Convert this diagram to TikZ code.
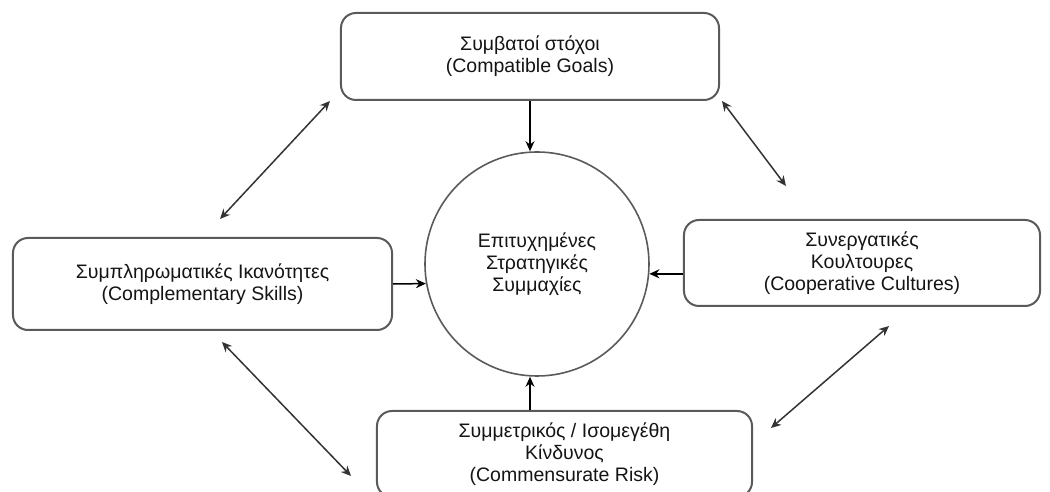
\documentclass[tikz,border=0pt]{standalone}
\usepackage{fontspec}
\setmainfont{Liberation Sans}
\usetikzlibrary{arrows.meta,positioning}
\definecolor{boxgray}{RGB}{90,90,90}
\definecolor{txtgray}{RGB}{20,20,20}

\tikzset{
  factor/.style={draw=boxgray,line width=1bp,rounded corners=7.5bp,align=center,inner sep=0pt,
    text=txtgray,font=\fontsize{9.8}{11.2}\selectfont},
  hubnode/.style={draw=boxgray,line width=0.8bp,circle,minimum size=112bp,inner sep=0pt,align=center,
    text=txtgray,font=\fontsize{9.8}{11.2}\selectfont},
  link/.style={-{Stealth[length=5bp,width=4.5bp]},line width=0.75bp},
  twoway/.style={{Stealth[length=5bp,width=4.5bp]}-{Stealth[length=5bp,width=4.5bp]},line width=0.75bp,black!80}
}

\begin{document}
\begin{tikzpicture}[x=0.5bp,y=-0.5bp]
  \useasboundingbox (0,0) rectangle (1050,492);

  % centre
  \node[hubnode] (hub) at (537,264) {Επιτυχημένες\\Στρατηγικές\\Συμμαχίες};

  % the four factors
  \node[factor,minimum width=189bp,minimum height=43.5bp] (goals) at (530,56.5) {Συμβατοί στόχοι\\(Compatible Goals)};
  \node[factor,minimum width=189.5bp,minimum height=46bp] (skills) at (202.5,284) {Συμπληρωματικές Ικανότητες\\(Complementary Skills)};
  \node[factor,minimum width=178bp,minimum height=43bp] (cultures) at (862,263) {Συνεργατικές\\Κουλτουρες\\(Cooperative Cultures)};
  \node[factor,minimum width=187.5bp,minimum height=43bp] (risk) at (564.5,454) {Συμμετρικός / Ισομεγέθη\\Κίνδυνος\\(Commensurate Risk)};

  % into the centre
  \draw[link] (goals.south) -- (goals.south |- hub.north);
  \draw[link] (skills.east) -- (hub.190);
  \draw[link] (hub.355 -| cultures.west) -- (hub.355);
  \draw[link] (risk.north -| goals.south) -- (goals.south |- hub.south);

  % between the factors
  \coordinate (tl1) at (330,101);
  \coordinate (tl2) at (220,219);
  \coordinate (tr1) at (722,101);
  \coordinate (tr2) at (786,186);
  \coordinate (br1) at (889,326);
  \coordinate (br2) at (771,428);
  \coordinate (bl1) at (222,342);
  \coordinate (bl2) at (351,476);
  \draw[twoway] (tl1) -- (tl2);
  \draw[twoway] (tr1) -- (tr2);
  \draw[twoway] (br1) -- (br2);
  \draw[twoway] (bl1) -- (bl2);
\end{tikzpicture}
\end{document}
